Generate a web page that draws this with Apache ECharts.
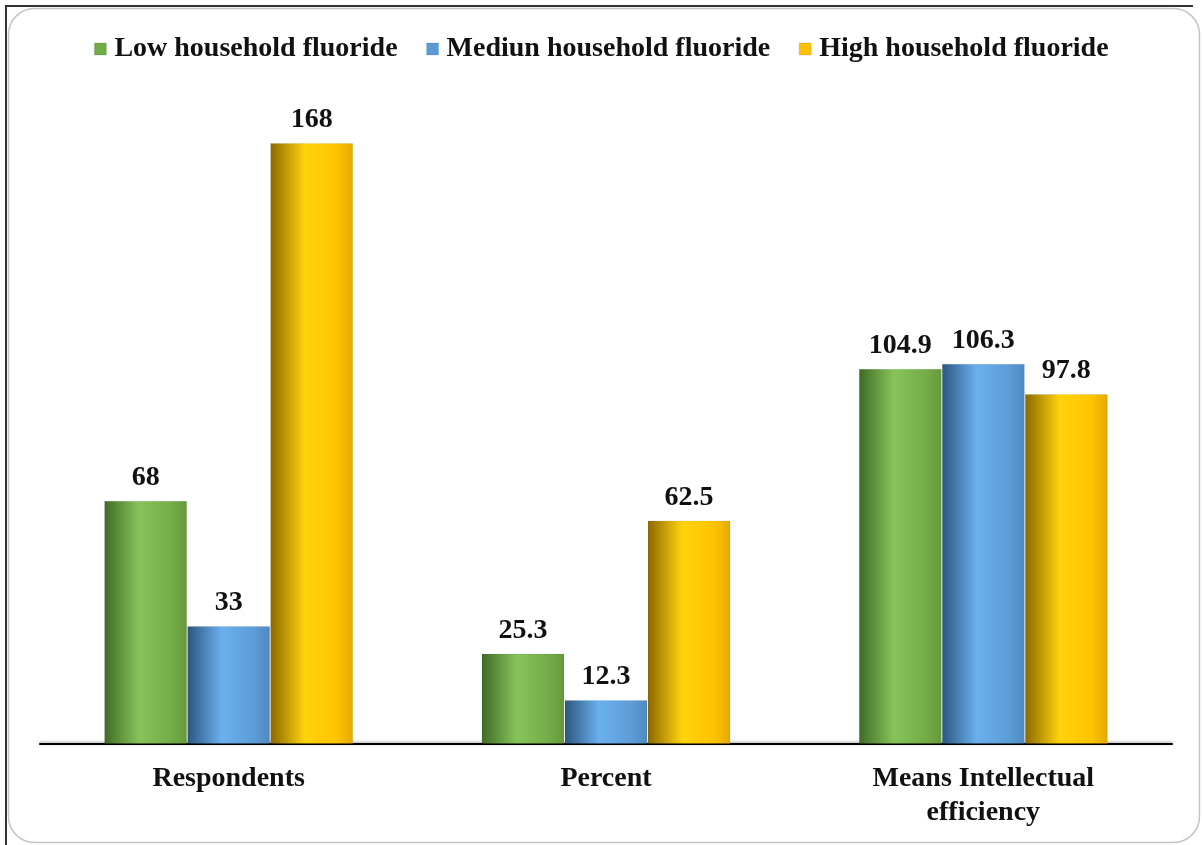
<!DOCTYPE html>
<html>
<head>
<meta charset="utf-8">
<script src="https://cdn.jsdelivr.net/npm/echarts@6/dist/echarts.min.js"></script>
<style>
  html, body { margin: 0; padding: 0; background: #ffffff; }
  #chart { width: 1202px; height: 845px; }
</style>
</head>
<body>
<div id="chart"></div>
<script>
// Categories and series values
const categories = ['Respondents', 'Percent', 'Means Intellectual\nefficiency'];
const seriesNames = ['Low household fluoride', 'Mediun household fluoride', 'High household fluoride'];
const lowValues = [68, 25.3, 104.9];
const mediumValues = [33, 12.3, 106.3];
const highValues = [168, 62.5, 97.8];

const FONT = '"Liberation Serif", "Times New Roman", serif';

// Cylinder-like horizontal shading for each bar colour
function shade(dark, light, mid, edge) {
  return new echarts.graphic.LinearGradient(0, 0, 1, 0, [
    { offset: 0, color: dark },
    { offset: 0.42, color: light },
    { offset: 0.8, color: mid },
    { offset: 1, color: edge }
  ]);
}
const fills = [
  shade('#3f6a25', '#87c35b', '#75ad48', '#65983b'),
  shade('#2c557f', '#6bb0ee', '#5d9dd8', '#4f88bf'),
  shade('#8a6800', '#ffd30c', '#ffc400', '#e3a900')
];
const legendColors = ['#70ad47', '#5b9bd5', '#ffc000'];
const valueSets = [lowValues, mediumValues, highValues];

const chart = echarts.init(document.getElementById('chart'));

const series = seriesNames.map((name, i) => ({
  name: name,
  type: 'bar',
  data: valueSets[i],
  barGap: '0%',
  barCategoryGap: '34%',
  color: legendColors[i],
  itemStyle: {
    color: fills[i],
    borderColor: 'rgba(0,0,0,0.06)',
    borderWidth: 1
  },
  label: {
    show: true,
    position: 'top',
    distance: 9,
    color: '#111',
    fontFamily: FONT,
    fontWeight: 'bold',
    fontSize: 28
  }
}));

chart.setOption({
  backgroundColor: '#ffffff',
  animation: false,
  graphic: [
    {
      type: 'rect',
      shape: { x: 8.5, y: 8.5, width: 1191, height: 834, r: 26 },
      style: { fill: 'none', stroke: '#c4c4c4', lineWidth: 1.5 },
      z: -1
    },
    {
      type: 'polyline',
      shape: { points: [[6, 845], [6, 6], [1193, 6]] },
      style: { fill: 'none', stroke: '#333333', lineWidth: 2 },
      z: 10
    }
  ],
  legend: {
    top: 30,
    left: 'center',
    itemWidth: 12,
    itemHeight: 12,
    itemGap: 28,
    icon: 'rect',
    data: seriesNames.map((n, i) => ({ name: n, itemStyle: { color: legendColors[i] } })),
    textStyle: {
      fontFamily: FONT,
      fontWeight: 'bold',
      fontSize: 28,
      color: '#111',
      padding: [0, 0, 0, 3]
    }
  },
  grid: { left: 40, right: 30, top: 100, bottom: 101 },
  xAxis: {
    type: 'category',
    data: categories,
    axisTick: { show: false },
    axisLine: {
      lineStyle: {
        color: '#000',
        width: 2,
        shadowColor: 'rgba(0,0,0,0.35)',
        shadowBlur: 3,
        shadowOffsetY: -1
      }
    },
    axisLabel: {
      margin: 18,
      color: '#111',
      fontFamily: FONT,
      fontWeight: 'bold',
      fontSize: 28,
      lineHeight: 34
    }
  },
  yAxis: {
    type: 'value',
    min: 0,
    max: 180,
    show: false,
    splitLine: { show: false }
  },
  series: series
});
</script>
</body>
</html>
